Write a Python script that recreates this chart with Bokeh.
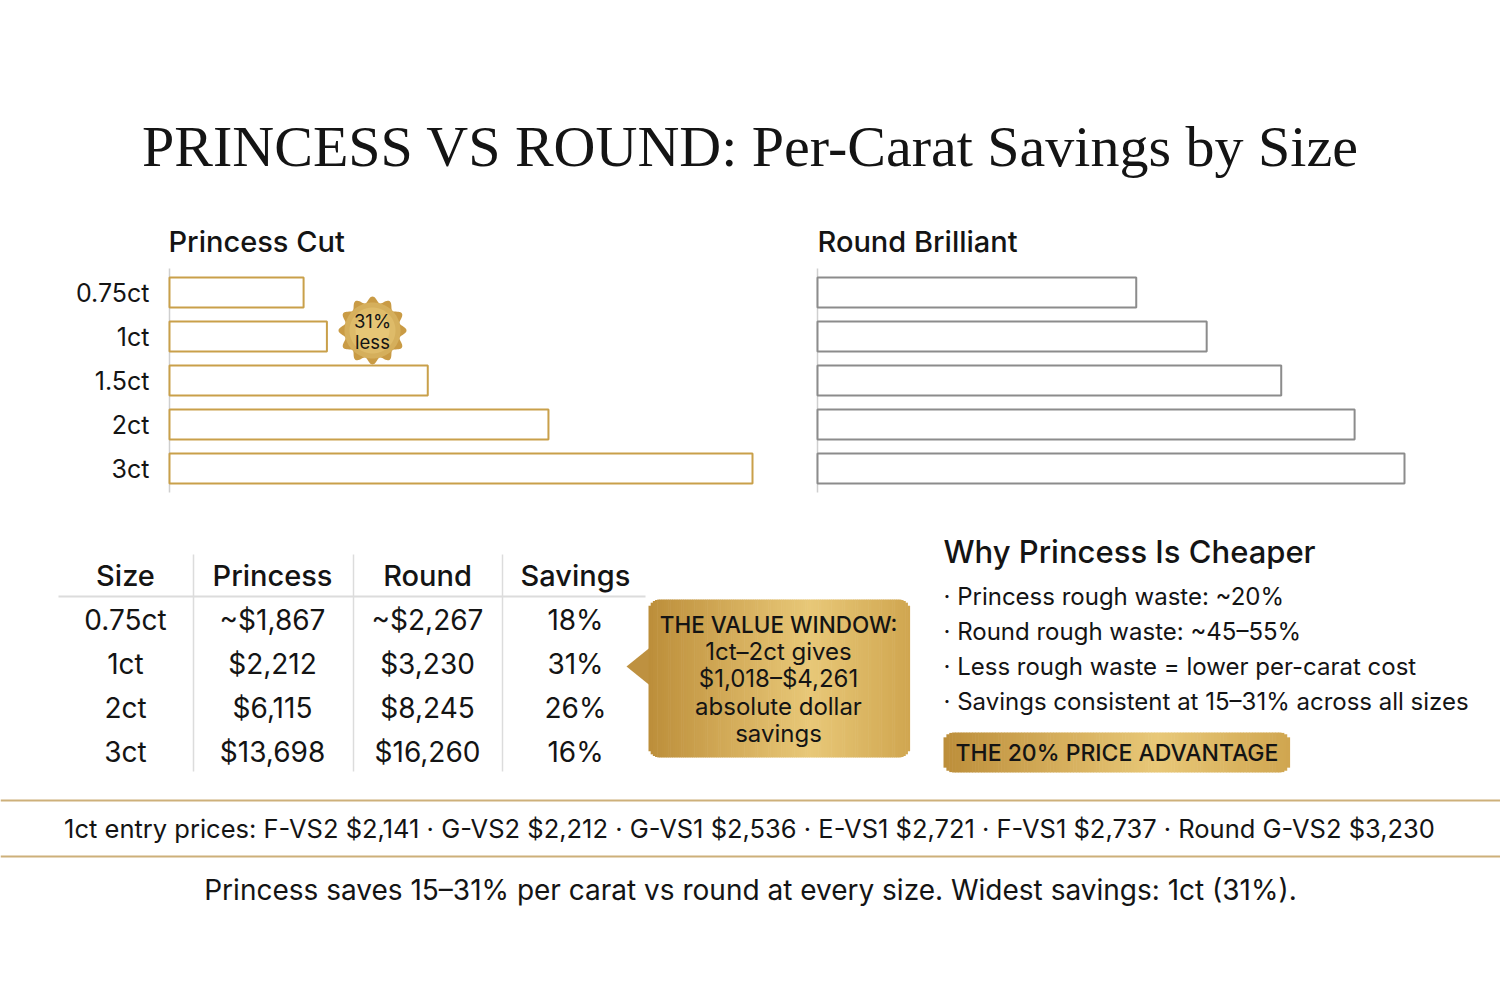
from bokeh.plotting import figure
from bokeh.models import Range1d, ColumnDataSource
from bokeh.core.properties import value
from bokeh.embed import file_html
from bokeh.resources import INLINE
import numpy as np

# ---------------- data ----------------
sizes = ["0.75ct", "1ct", "1.5ct", "2ct", "3ct"]
princess_index = [23.0, 27.0, 44.3, 65.0, 100.0]   # relative per-carat bar length (3ct = 100)
round_index = [54.3, 66.3, 79.0, 91.5, 100.0]

table_headers = ["Size", "Princess", "Round", "Savings"]
table_sizes = ["0.75ct", "1ct", "2ct", "3ct"]
table_princess = ["~$1,867", "$2,212", "$6,115", "$13,698"]
table_round = ["~$2,267", "$3,230", "$8,245", "$16,260"]
table_savings = ["18%", "31%", "26%", "16%"]

reasons = [
    "\u00b7 Princess rough waste: ~20%",
    "\u00b7 Round rough waste: ~45\u201355%",
    "\u00b7 Less rough waste = lower per-carat cost",
    "\u00b7 Savings consistent at 15\u201331% across all sizes",
]
callout_lines = ["THE VALUE WINDOW:", "1ct\u20132ct gives", "$1,018\u2013$4,261",
                 "absolute dollar", "savings"]
entry_grades = ["F-VS2", "G-VS2", "G-VS1", "E-VS1", "F-VS1", "Round G-VS2"]
entry_prices = ["$2,141", "$2,212", "$2,536", "$2,721", "$2,737", "$3,230"]

TITLE = "PRINCESS VS ROUND: Per-Carat Savings by Size"
FOOT = "Princess saves 15\u201331% per carat vs round at every size. Widest savings: 1ct (31%)."

# ---------------- style ----------------
SANS = "Inter"
SANS_MED = "'Inter Medium', Inter"
SERIF = "Liberation Serif"
INK = "#141414"
GOLD = "#C9A04A"
GRAY = "#8C8C8C"
RULE = "#DCDCDC"
GOLD_STOPS = [(0.0, "#BC8E3A"), (0.35, "#D6AF5D"), (0.62, "#E8C878"), (1.0, "#D0A650")]

W, H = 1500, 1000
p = figure(width=W, height=H, x_range=Range1d(0, W), y_range=Range1d(H, 0),
           output_backend="svg", toolbar_location=None, min_border=0,
           background_fill_color="white", border_fill_color="white")
p.axis.visible = False
p.grid.visible = False
p.outline_line_color = None


def txt(x, y, t, size, align="left", style="normal", color=INK, font=SANS):
    if isinstance(t, str):
        x, y, t = [x], [y], [t]
    p.text(x=x, y=y, text=t, text_font=value(font), text_font_size=f"{size}px",
           text_align=align, text_baseline="middle", text_font_style=style,
           text_color=color)


def mix(stops, f):
    for (a, ca), (b, cb) in zip(stops[:-1], stops[1:]):
        if a <= f <= b:
            t = (f - a) / (b - a) if b > a else 0
            c1 = [int(ca[i:i + 2], 16) for i in (1, 3, 5)]
            c2 = [int(cb[i:i + 2], 16) for i in (1, 3, 5)]
            return "#%02x%02x%02x" % tuple(round(u + (v - u) * t) for u, v in zip(c1, c2))
    return stops[-1][1]


def gold_box(l, r, t, b, rad, n=120):
    xs = np.linspace(l, r, n + 1)
    mids = (xs[:-1] + xs[1:]) / 2
    d = np.minimum(mids - l, r - mids)
    inset = np.where(d < rad, rad - np.sqrt(np.clip(rad ** 2 - (rad - d) ** 2, 0, None)), 0)
    cols = [mix(GOLD_STOPS, (m - l) / (r - l)) for m in mids]
    p.quad(left=xs[:-1], right=xs[1:] + 0.6, top=t + inset, bottom=b - inset,
           fill_color=cols, line_color=None)


# title
txt(750, 146, TITLE, 58, align="center", font=SERIF)

# ---------------- bar panels ----------------
P_LEFT, R_LEFT = 169, 817
P_PX, R_PX = 5.83, 5.87  # pixels per index unit
p.extra_x_ranges = {
    "pv": Range1d(-P_LEFT / P_PX, (W - P_LEFT) / P_PX),
    "rv": Range1d(-R_LEFT / R_PX, (W - R_LEFT) / R_PX),
}
row_y = [292 + 44 * i for i in range(len(sizes))]
src = ColumnDataSource(dict(y=row_y, size=sizes, pv=princess_index, rv=round_index))

txt(168, 241, "Princess Cut", 29, font=SANS_MED)
txt(817, 241, "Round Brilliant", 29, font=SANS_MED)

p.segment(x0=[P_LEFT, R_LEFT], x1=[P_LEFT, R_LEFT], y0=[268, 268], y1=[492, 492],
          line_color="#CFCFCF", line_width=1.5)
p.hbar(y="y", left=0, right="pv", height=30, source=src, x_range_name="pv",
       fill_color="white", line_color=GOLD, line_width=2)
p.hbar(y="y", left=0, right="rv", height=30, source=src, x_range_name="rv",
       fill_color="white", line_color=GRAY, line_width=2)
p.text(x=149, y="y", text="size", source=src, text_font=value(SANS),
       text_font_size="25px", text_align="right", text_baseline="middle",
       text_color=INK)

# scalloped badge
th = np.linspace(0, 2 * np.pi, 241)
cx, cy = 372, 330
for rr, col in [(0, "#C99B45"), (-3, "#D5AF5C"), (-8, "#DEBB69"), (-14, "#E6C676")]:
    rad = 31 + rr + 3 * np.cos(12 * th) if rr == 0 else np.full_like(th, 31 + rr)
    p.patch(cx + rad * np.cos(th), cy + rad * np.sin(th), fill_color=col, line_color=None)
txt(cx, 320, "31%", 18.5, align="center")
txt(cx, 341, "less", 18.5, align="center")

# ---------------- table ----------------
col_x = [125, 272, 427, 575]
txt(col_x, [575] * 4, table_headers, 29, align="center", font=SANS_MED)
p.segment(x0=[58], x1=[645], y0=[596], y1=[596], line_color=RULE, line_width=2)
p.segment(x0=[193, 353, 502], x1=[193, 353, 502], y0=[554] * 3, y1=[771] * 3,
          line_color=RULE, line_width=1.5)
trow_y = [619 + 44 * i for i in range(len(table_sizes))]
for cx_, col in zip(col_x, [table_sizes, table_princess, table_round, table_savings]):
    txt([cx_] * len(col), trow_y, col, 28, align="center")

# ---------------- callout ----------------
p.patch([652, 626, 652], [645, 666, 687], fill_color="#BE9140", line_color=None)
gold_box(648, 909, 599, 757, 11)
cl_y = [624, 651, 678, 706, 733]
txt(778, cl_y[0], callout_lines[0], 22.5, align="center", font=SANS_MED)
txt([778] * 4, cl_y[1:], callout_lines[1:], 24, align="center")

# ---------------- why princess ----------------
txt(943, 551, "Why Princess Is Cheaper", 31, font=SANS_MED)
txt([943] * 4, [596, 631, 666, 701], reasons, 24)
gold_box(943, 1289, 732, 772, 10)
txt(955, 752, "THE 20% PRICE ADVANTAGE", 23, font=SANS_MED)

# ---------------- footer ----------------
p.segment(x0=[0, 0], x1=[W, W], y0=[800, 856], y1=[800, 856], line_color="#CDB07A",
          line_width=2)
entry = "1ct entry prices: " + " \u00b7 ".join(f"{g} {pr}" for g, pr in zip(entry_grades, entry_prices))
txt(749, 828, entry, 25.5, align="center")
txt(750, 889, FOOT, 28, align="center")

open("out.html", "w").write(file_html(p, INLINE))
